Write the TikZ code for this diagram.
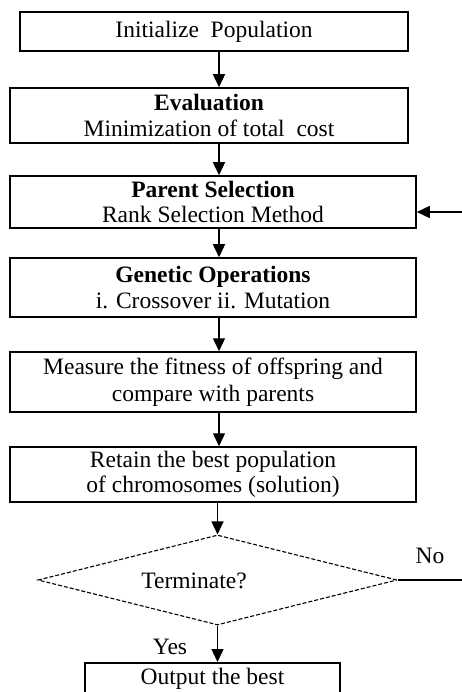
\documentclass[tikz,border=0pt]{standalone}
\usepackage{fontspec}
\setmainfont{Liberation Serif}
\usetikzlibrary{arrows.meta,shapes.geometric}
\begin{document}
\begin{tikzpicture}[x=1pt,y=-1pt,
  box/.style={draw,line width=1.5pt,align=center,inner sep=0pt,
    font=\fontsize{23.5}{25.5}\selectfont},
  flow/.style={line width=1.4pt,-{Triangle[width=12pt,length=13pt]}},
  lbl/.style={font=\fontsize{23.5}{25.5}\selectfont,inner sep=0pt}]
\useasboundingbox (0,0) rectangle (462,692);
\clip (0,0) rectangle (462,692);
\fill[white] (0,0) rectangle (462,692);
\coordinate (ax) at (219,0);
\coordinate (dx) at (217.5,0);
\node[box,minimum width=388pt,minimum height=39pt] (b1) at (214,31.5) {Initialize\ \ Population};
\node[box,minimum width=398pt,minimum height=55pt] (b2) at (209,115.5) {\textbf{Evaluation}\\Minimization of total\ \ cost};
\node[box,minimum width=406pt,minimum height=52pt] (b3) at (213,202) {\textbf{Parent Selection}\\Rank Selection Method};
\node[box,minimum width=406pt,minimum height=59pt] (b4) at (213,287.5) {\textbf{Genetic Operations}\\i. Crossover ii. Mutation};
\node[box,minimum width=406pt,minimum height=60pt] (b5) at (213,382) {Measure the fitness of offspring and\\[2pt]compare with parents};
\node[box,minimum width=406pt,minimum height=55pt] (b6) at (213,474.5) {Retain the best population\\of chromosomes (solution)};
\node[draw,diamond,dashed,dash pattern=on 4pt off 2pt,line width=1.1pt,inner sep=0pt,
  minimum width=359pt,minimum height=90pt,aspect=4] (d) at (217.5,580) {};
\node[lbl] (dt) at (194,581) {Terminate?};
\node[box,anchor=north,minimum width=255pt,inner ysep=5pt] (b7) at (212.5,662)
  {Output the best\rule[-40pt]{0pt}{0pt}};
\node[lbl] (no) at (430,556) {No};
\node[lbl] (yes) at (170,647) {Yes};
\coordinate (re1) at (462,212);
\coordinate (re2) at (462,580);
\draw[flow] (b1.south -| ax) -- (b2.north -| ax);
\draw[flow] (b2.south -| ax) -- (b3.north -| ax);
\draw[flow] (b3.south -| ax) -- (b4.north -| ax);
\draw[flow] (b4.south -| ax) -- (b5.north -| ax);
\draw[flow] (b5.south -| ax) -- (b6.north -| ax);
\draw[flow] (b6.south -| dx) -- (d.north);
\draw[flow] (d.south -| dx) -- (b7.north -| dx);
\draw[line width=1.4pt] (d.east) -- (re2);
\draw[flow] (re1) -- (re1 -| b3.east);
\end{tikzpicture}
\end{document}
